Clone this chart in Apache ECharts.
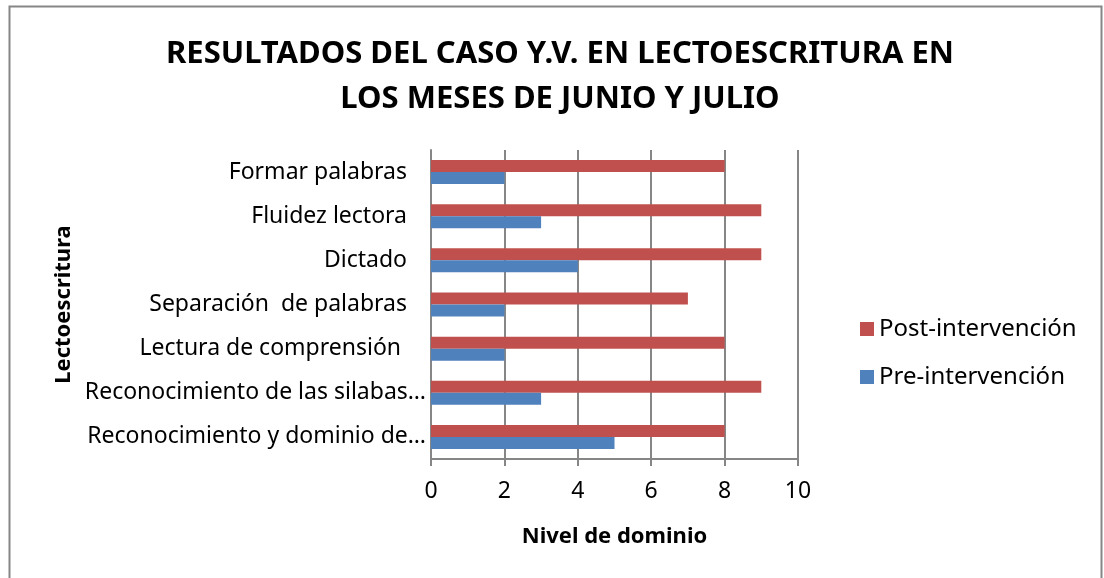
<!DOCTYPE html>
<html>
<head>
<meta charset="utf-8">
<script src="https://cdn.jsdelivr.net/npm/echarts@6/dist/echarts.min.js"></script>
<style>
  html, body { margin: 0; padding: 0; background: #fff; }
  #chart { width: 1104px; height: 578px; }
</style>
</head>
<body>
<div id="chart"></div>
<script>
  // categorias de abajo hacia arriba
  var categorias = [
    'Reconocimiento y dominio de…',
    'Reconocimiento de las silabas…',
    'Lectura de comprensión ',
    'Separación  de palabras',
    'Dictado',
    'Fluidez lectora',
    'Formar palabras'
  ];
  var preIntervencion = [5, 3, 2, 2, 4, 3, 2];
  var postIntervencion = [8, 9, 8, 7, 9, 9, 8];
  var ejeX = [0, 2, 4, 6, 8, 10];

  var fuente = 'Noto Sans';
  var myChart = echarts.init(document.getElementById('chart'));

  myChart.setOption({
    backgroundColor: '#fff',
    animation: false,
    textStyle: { fontFamily: fuente },
    graphic: [{
      type: 'rect',
      shape: { x: 9.5, y: 6.5, width: 1092, height: 600 },
      style: { fill: 'none', stroke: '#868686', lineWidth: 2 }
    }],
    title: {
      text: 'RESULTADOS DEL CASO Y.V. EN LECTOESCRITURA EN\nLOS MESES DE JUNIO Y JULIO',
      left: 555,
      textAlign: 'center',
      top: 27,
      textStyle: {
        fontFamily: fuente,
        fontSize: 31,
        fontWeight: 'bold',
        color: '#000',
        lineHeight: 45
      }
    },
    legend: {
      data: ['Post-intervención', 'Pre-intervención'],
      orient: 'vertical',
      left: 855,
      top: 312,
      itemWidth: 14,
      itemHeight: 14,
      itemGap: 24,
      icon: 'rect',
      textStyle: { fontSize: 24, color: '#000', fontFamily: fuente }
    },
    grid: {
      left: 431,
      right: 306,
      top: 150,
      bottom: 119,
      containLabel: false
    },
    xAxis: {
      type: 'value',
      min: 0,
      max: 10,
      interval: 2,
      name: 'Nivel de dominio',
      nameLocation: 'middle',
      nameGap: 67,
      nameTextStyle: { fontSize: 22, fontWeight: 'bold', color: '#000', fontFamily: fuente },
      axisLine: { show: true, lineStyle: { color: '#868686', width: 2 } },
      axisTick: { show: true, length: 7, lineStyle: { color: '#868686', width: 2 } },
      axisLabel: {
        fontSize: 23, color: '#000', margin: 21, fontFamily: fuente,
        formatter: function (v) { return ejeX.indexOf(v) >= 0 ? String(v) : ''; }
      },
      splitLine: { show: true, lineStyle: { color: '#868686', width: 2 } }
    },
    yAxis: {
      type: 'category',
      data: categorias,
      name: 'Lectoescritura',
      nameLocation: 'middle',
      nameRotate: 90,
      nameGap: 356,
      nameTextStyle: { fontSize: 22, fontWeight: 'bold', color: '#000', fontFamily: fuente },
      axisLine: { show: true, lineStyle: { color: '#868686', width: 2 } },
      axisTick: { show: false },
      axisLabel: {
        fontSize: 23, color: '#000', margin: 5, fontFamily: fuente,
        formatter: function (v) {
          return v.indexOf('…') >= 0 ? '{e|' + v + '}' : '{n|' + v + '}';
        },
        rich: {
          e: { fontSize: 23, color: '#000', fontFamily: fuente },
          n: { fontSize: 23, color: '#000', fontFamily: fuente, padding: [0, 19, 0, 0] }
        }
      },
      splitLine: { show: false }
    },
    series: [{
      name: 'Post-intervención',
      type: 'bar',
      data: postIntervencion,
      barWidth: 12,
      barGap: '0%',
      itemStyle: { color: '#C0504D' }
    }, {
      name: 'Pre-intervención',
      type: 'bar',
      data: preIntervencion,
      barWidth: 12,
      barGap: '0%',
      itemStyle: { color: '#4F81BD' }
    }]
  });
  window.addEventListener('resize', function () { myChart.resize(); });
</script>
</body>
</html>
